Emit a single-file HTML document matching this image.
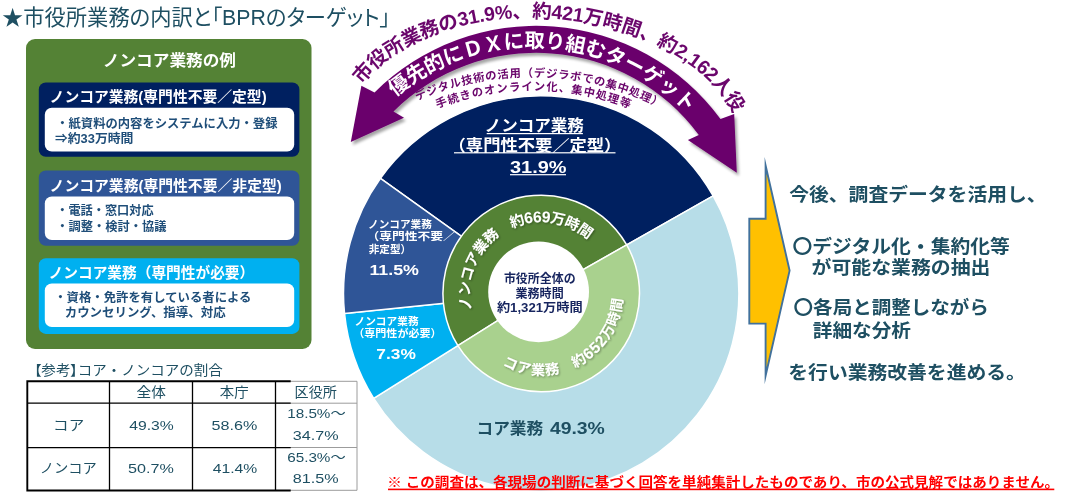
<!DOCTYPE html>
<html lang="ja"><head><meta charset="utf-8"><title>市役所業務の内訳とBPRのターゲット</title>
<style>
html,body{margin:0;padding:0;background:#fff;}
body{width:1071px;height:500px;overflow:hidden;}
svg{display:block;font-family:"Liberation Sans", "Noto Sans CJK JP", sans-serif;}
text{white-space:pre;}
.pa{font-feature-settings:"palt";}
</style></head><body>
<svg width="1071" height="500" viewBox="0 0 1071 500">
<defs>
<filter id="sh" x="-10%" y="-10%" width="120%" height="130%"><feGaussianBlur in="SourceAlpha" stdDeviation="1.6"/><feOffset dx="1.5" dy="2.5"/><feComponentTransfer><feFuncA type="linear" slope="0.36"/></feComponentTransfer><feMerge><feMergeNode/><feMergeNode in="SourceGraphic"/></feMerge></filter>
<filter id="tsh" x="-10%" y="-10%" width="120%" height="120%"><feGaussianBlur in="SourceAlpha" stdDeviation="0.8"/><feOffset dx="0.7" dy="0.8"/><feComponentTransfer><feFuncA type="linear" slope="0.38"/></feComponentTransfer><feMerge><feMergeNode/><feMergeNode in="SourceGraphic"/></feMerge></filter>
</defs>
<rect width="1071" height="500" fill="#fff"/>

<g id="donut">
<path d="M541.20,293.40 L380.45,178.31 A197.7,197.7 0 0 1 713.17,195.87 Z" fill="#002060" stroke="#fff" stroke-width="1.5" stroke-linejoin="round"/>
<path d="M541.20,293.40 L713.17,195.87 A197.7,197.7 0 0 1 373.69,398.40 Z" fill="#b7dde8" stroke="#fff" stroke-width="1.5" stroke-linejoin="round"/>
<path d="M541.20,293.40 L373.69,398.40 A197.7,197.7 0 0 1 344.51,313.38 Z" fill="#00b0f0" stroke="#fff" stroke-width="1.5" stroke-linejoin="round"/>
<path d="M541.20,293.40 L344.51,313.38 A197.7,197.7 0 0 1 380.45,178.31 Z" fill="#2f5597" stroke="#fff" stroke-width="1.5" stroke-linejoin="round"/>
<path d="M541.20,293.40 L457.91,345.61 A98.3,98.3 0 1 1 626.71,244.91 Z" fill="#548235" stroke="#fff" stroke-width="1.5" stroke-linejoin="round"/>
<path d="M541.20,293.40 L626.71,244.91 A98.3,98.3 0 0 1 457.91,345.61 Z" fill="#a9d18e" stroke="#fff" stroke-width="1.5" stroke-linejoin="round"/>
<circle cx="538.6" cy="291.8" r="50.4" fill="#fff"/>
</g>
<g id="panel">
<rect x="26" y="39" width="285.5" height="310" rx="9" fill="#548235"/>
<rect x="38.8" y="82.5" width="260.6" height="74.3" rx="7" fill="#002060"/>
<rect x="44.8" y="107.7" width="249.4" height="43.9" rx="7" fill="#fff"/>
<rect x="38.8" y="170.4" width="260.6" height="75.4" rx="7" fill="#2f5597"/>
<rect x="44.8" y="196.5" width="249.4" height="43.6" rx="7" fill="#fff"/>
<rect x="38.8" y="258.3" width="260.6" height="75.6" rx="7" fill="#00b0f0"/>
<rect x="44.8" y="283.5" width="249.4" height="43.6" rx="7" fill="#fff"/>
</g>
<g id="table" fill="none">
<path d="M290,381.3H357V490.3H290 M275.5,403.2H357 M275.5,447.5H357" stroke="#9c9c9c" stroke-width="1"/>
<path d="M27.3,403.1H290.7 M27.3,447.7H290.7 M109.5,381.3V490.5 M192.5,381.3V490.5 M275.5,381.3V490.5" stroke="#000" stroke-width="1.3"/>
<path d="M290.7,381.3H27.3V490.5H290.7" stroke="#000" stroke-width="1.9" stroke-linejoin="miter"/>
</g>
<path d="M749.3,218.8 H765.6 V165.5 L789.6,270.6 L765.6,375.7 V323.6 H749.3 Z" fill="#ffc000" stroke="#41719c" stroke-width="1.9" stroke-linejoin="miter" stroke-miterlimit="10"/>
<path d="M350.8,141.9 L361.4,85.8 L374.5,92.4 A229.2,229.2 0 0 1 720.5,119.0 L734.2,114.1 L736.8,172.7 L687.9,140.1 L698.8,135.0 A202.3,202.3 0 0 0 393.5,111.5 L404.0,117.8 Z" fill="#6b066c" filter="url(#sh)"/>
<g id="curved">
<path id="p1" d="M361.83,84.79 A200.68,127.98 4 0 1 733.51,113.56" fill="none"/>
<text font-size="19.5" font-weight="bold" fill="#6b066c"><textPath href="#p1" textLength="422.3" lengthAdjust="spacing">市役所業務の31.9%、約421万時間、約2,162人役</textPath></text>
<path id="p2" d="M395.25,96.88 A215.93,215.93 0 0 1 687.40,112.96" fill="none"/>
<text font-size="20.2" font-weight="bold" fill="#fff"><textPath href="#p2" textLength="321.5" lengthAdjust="spacing">優先的にＤＸに取り組むターゲット</textPath></text>
<path id="p3" d="M417.08,100.50 A284.93,284.93 0 0 1 660.06,107.92" fill="none"/>
<text font-size="11.3" font-weight="bold" fill="#6b066c"><textPath href="#p3" textLength="251.1" lengthAdjust="spacing">デジタル技術の活用（デジラボでの集中処理）</textPath></text>
<path id="p4" d="M437.43,108.40 A263.93,263.93 0 0 1 629.17,108.40" fill="none"/>
<text font-size="11.3" font-weight="bold" fill="#6b066c"><textPath href="#p4" textLength="196.2" lengthAdjust="spacing">手続きのオンライン化、集中処理等</textPath></text>
<path id="p5" d="M471.89,310.04 A71.28,71.28 0 0 1 587.96,239.60" fill="none"/>
<text font-size="14.5" font-weight="bold" fill="#fff" filter="url(#tsh)"><textPath href="#p5" textLength="179.8" lengthAdjust="spacing">ノンコア業務　約<tspan font-size="15.6">669</tspan>万時間</textPath></text>
<path id="p6" d="M502.26,365.12 A81.61,81.61 0 0 0 622.61,299.09" fill="none"/>
<text font-size="14.2" font-weight="bold" fill="#fff" filter="url(#tsh)"><textPath href="#p6" textLength="163.1" lengthAdjust="spacing">コア業務　約<tspan font-size="15.6">652</tspan>万時間</textPath></text>
</g>
<g id="texts">
<text class="pa" x="2.0" y="25.4" font-size="21.3" font-weight="normal" fill="#1e4f62" textLength="388.3" lengthAdjust="spacingAndGlyphs">★市役所業務の内訳と「BPRのターゲット」</text>
<text x="102.8" y="65.7" font-size="16" font-weight="bold" fill="#fff" textLength="133.2" lengthAdjust="spacingAndGlyphs">ノンコア業務の例</text>
<text x="49.6" y="101.5" font-size="14.5" font-weight="bold" fill="#fff" textLength="217.0" lengthAdjust="spacingAndGlyphs">ノンコア業務(専門性不要／定型)</text>
<text x="56.2" y="127.7" font-size="12.3" font-weight="bold" fill="#1f4e79" textLength="221.3" lengthAdjust="spacingAndGlyphs">・紙資料の内容をシステムに入力・登録</text>
<text x="54.9" y="142.6" font-size="12.3" font-weight="bold" fill="#1f4e79" textLength="78.6" lengthAdjust="spacingAndGlyphs">⇒約33万時間</text>
<text x="49.6" y="190.5" font-size="14.5" font-weight="bold" fill="#fff" textLength="232.1" lengthAdjust="spacingAndGlyphs">ノンコア業務(専門性不要／非定型)</text>
<text x="56.3" y="215.4" font-size="12.3" font-weight="bold" fill="#1f4e79" textLength="97.3" lengthAdjust="spacingAndGlyphs">・電話・窓口対応</text>
<text x="56.2" y="230.5" font-size="12.3" font-weight="bold" fill="#1f4e79" textLength="110.3" lengthAdjust="spacingAndGlyphs">・調整・検討・協議</text>
<text x="48.6" y="277.9" font-size="14.5" font-weight="bold" fill="#fff" textLength="205.6" lengthAdjust="spacingAndGlyphs">ノンコア業務（専門性が必要）</text>
<text x="54.2" y="301.7" font-size="12.3" font-weight="bold" fill="#1f4e79" textLength="197.2" lengthAdjust="spacingAndGlyphs">・資格・免許を有している者による</text>
<text x="64.7" y="316.6" font-size="12.3" font-weight="bold" fill="#1f4e79" textLength="160.9" lengthAdjust="spacingAndGlyphs">カウンセリング、指導、対応</text>
<text x="34.1" y="374.6" font-size="13.8" font-weight="normal" fill="#1e4f62" textLength="188.8" lengthAdjust="spacingAndGlyphs"><tspan class="pa">【</tspan>参考<tspan class="pa">】</tspan>コア・ノンコアの割合</text>
<text x="136.6" y="397.3" font-size="13.3" font-weight="normal" fill="#1e4f62" textLength="29.4" lengthAdjust="spacingAndGlyphs">全体</text>
<text x="219.7" y="397.3" font-size="13.3" font-weight="normal" fill="#1e4f62" textLength="28.9" lengthAdjust="spacingAndGlyphs">本庁</text>
<text x="294.6" y="397.3" font-size="13.3" font-weight="normal" fill="#1e4f62" textLength="42.3" lengthAdjust="spacingAndGlyphs">区役所</text>
<text x="53.1" y="430.2" font-size="13.3" font-weight="normal" fill="#1e4f62" textLength="31.1" lengthAdjust="spacingAndGlyphs">コア</text>
<text x="129.3" y="430.2" font-size="13.3" font-weight="normal" fill="#1e4f62" textLength="44.5" lengthAdjust="spacingAndGlyphs">49.3%</text>
<text x="211.5" y="430.2" font-size="13.3" font-weight="normal" fill="#1e4f62" textLength="45.8" lengthAdjust="spacingAndGlyphs">58.6%</text>
<text x="287.2" y="417.8" font-size="13.3" font-weight="normal" fill="#1e4f62" textLength="58.5" lengthAdjust="spacingAndGlyphs">18.5%～</text>
<text x="292.8" y="439.6" font-size="13.3" font-weight="normal" fill="#1e4f62" textLength="45.8" lengthAdjust="spacingAndGlyphs">34.7%</text>
<text x="39.7" y="472.9" font-size="13.3" font-weight="normal" fill="#1e4f62" textLength="57.2" lengthAdjust="spacingAndGlyphs">ノンコア</text>
<text x="128.1" y="472.9" font-size="13.3" font-weight="normal" fill="#1e4f62" textLength="45.8" lengthAdjust="spacingAndGlyphs">50.7%</text>
<text x="212.7" y="472.9" font-size="13.3" font-weight="normal" fill="#1e4f62" textLength="44.5" lengthAdjust="spacingAndGlyphs">41.4%</text>
<text x="287.2" y="462.1" font-size="13.3" font-weight="normal" fill="#1e4f62" textLength="58.5" lengthAdjust="spacingAndGlyphs">65.3%～</text>
<text x="292.8" y="483.3" font-size="13.3" font-weight="normal" fill="#1e4f62" textLength="45.8" lengthAdjust="spacingAndGlyphs">81.5%</text>
<text x="484.6" y="131.2" font-size="16" font-weight="bold" fill="#fff" textLength="99.3" lengthAdjust="spacingAndGlyphs">ノンコア業務</text>
<rect x="486.7" y="133.0" width="96.2" height="1.2" fill="#fff"/>
<text x="448.6" y="151.4" font-size="16" font-weight="bold" fill="#fff" textLength="172.8" lengthAdjust="spacingAndGlyphs">（専門性不要／定型）</text>
<rect x="454" y="152.2" width="161.5" height="1.2" fill="#fff"/>
<text x="510.0" y="173.2" font-size="16" font-weight="bold" fill="#fff" textLength="56.5" lengthAdjust="spacingAndGlyphs">31.9%</text>
<rect x="510" y="174.1" width="56.0" height="1.2" fill="#fff"/>
<text x="368.0" y="228.2" font-size="10.7" font-weight="bold" fill="#fff" textLength="63.8" lengthAdjust="spacingAndGlyphs">ノンコア業務</text>
<text x="366.6" y="240.4" font-size="10.7" font-weight="bold" fill="#fff" textLength="89.3" lengthAdjust="spacingAndGlyphs">（専門性不要／</text>
<text x="368.7" y="253.2" font-size="10.7" font-weight="bold" fill="#fff" textLength="42.5" lengthAdjust="spacingAndGlyphs">非定型）</text>
<text x="369.4" y="275.2" font-size="14.5" font-weight="bold" fill="#fff" textLength="49.6" lengthAdjust="spacingAndGlyphs">11.5%</text>
<text x="354.5" y="324.7" font-size="10.7" font-weight="bold" fill="#fff" textLength="64.1" lengthAdjust="spacingAndGlyphs">ノンコア業務</text>
<text x="353.2" y="337.0" font-size="10.7" font-weight="bold" fill="#fff" textLength="88.5" lengthAdjust="spacingAndGlyphs">（専門性が必要）</text>
<text x="376.3" y="359.4" font-size="14.5" font-weight="bold" fill="#fff" textLength="39.5" lengthAdjust="spacingAndGlyphs">7.3%</text>
<text x="476.5" y="434.0" font-size="16" font-weight="bold" fill="#1e4f62" textLength="66.6" lengthAdjust="spacingAndGlyphs">コア業務</text>
<text x="549.9" y="434.0" font-size="16" font-weight="bold" fill="#1e4f62" textLength="54.9" lengthAdjust="spacingAndGlyphs">49.3%</text>
<text x="503.9" y="282.8" font-size="12" font-weight="bold" fill="#17255f" textLength="71.7" lengthAdjust="spacingAndGlyphs">市役所全体の</text>
<text x="515.5" y="297.5" font-size="12" font-weight="bold" fill="#17255f" textLength="48.2" lengthAdjust="spacingAndGlyphs">業務時間</text>
<text x="496.9" y="311.7" font-size="12" font-weight="bold" fill="#17255f" textLength="85.8" lengthAdjust="spacingAndGlyphs">約1,321万時間</text>
<text x="789.2" y="200.9" font-size="18.7" font-weight="bold" fill="#1e4f62" textLength="257.4" lengthAdjust="spacingAndGlyphs">今後、調査データを活用し、</text>
<text x="792.5" y="253.0" font-size="18.7" font-weight="bold" fill="#1e4f62" textLength="217.3" lengthAdjust="spacingAndGlyphs">〇デジタル化・集約化等</text>
<text x="811.5" y="273.5" font-size="18.7" font-weight="bold" fill="#1e4f62" textLength="178.9" lengthAdjust="spacingAndGlyphs">が可能な業務の抽出</text>
<text x="793.6" y="314.4" font-size="18.7" font-weight="bold" fill="#1e4f62" textLength="195.3" lengthAdjust="spacingAndGlyphs">〇各局と調整しながら</text>
<text x="812.8" y="336.7" font-size="18.7" font-weight="bold" fill="#1e4f62" textLength="98.2" lengthAdjust="spacingAndGlyphs">詳細な分析</text>
<text x="788.3" y="379.3" font-size="18.7" font-weight="bold" fill="#1e4f62" textLength="237.5" lengthAdjust="spacingAndGlyphs">を行い業務改善を進める。</text>
<text x="387.2" y="487.1" font-size="13.3" font-weight="bold" fill="#ff0000" textLength="671.9" lengthAdjust="spacingAndGlyphs">※ この調査は、各現場の判断に基づく回答を単純集計したものであり、市の公式見解ではありません。</text>
<rect x="388" y="488.6" width="666.3" height="1.6" fill="#ff0000"/>
</g>
</svg></body></html>
